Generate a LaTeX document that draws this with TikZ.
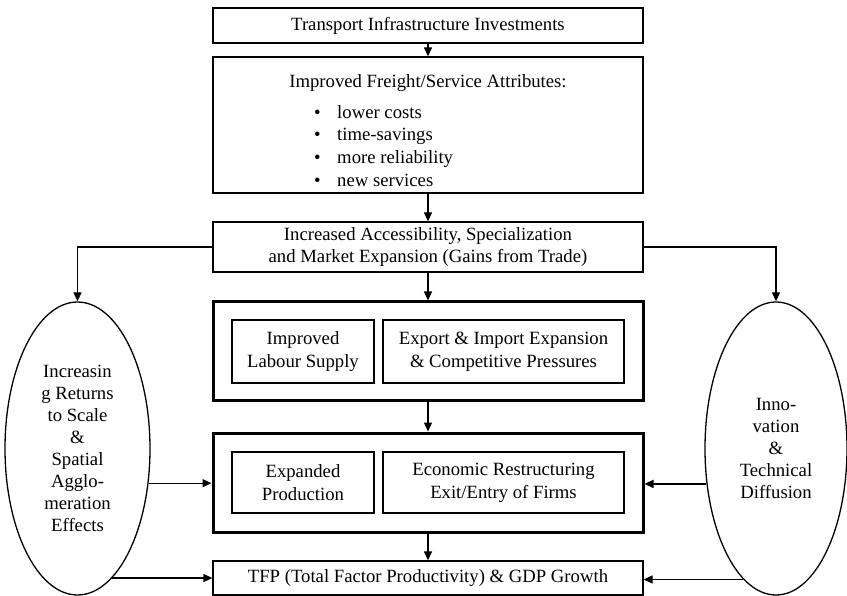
\documentclass[tikz,border=0pt]{standalone}
\usepackage{fontspec}
\setmainfont{Liberation Serif}
\usetikzlibrary{arrows.meta,shapes.geometric}

\begin{document}
\begin{tikzpicture}[x=1pt,y=-1pt,
  every node/.style={font=\fontsize{18.7}{22.8}\selectfont, inner sep=0pt},
  box/.style={draw, line width=1.3pt, align=center, minimum width=430pt},
  groupbox/.style={draw, line width=3pt, minimum width=430pt},
  inbox/.style={draw, line width=1.3pt, align=center},
  oval/.style={draw, ellipse, line width=1.3pt, align=center,
    font=\fontsize{18.7}{22}\selectfont},
  arr/.style={line width=1.3pt, -{Triangle[length=9pt,width=8pt]}}]
\useasboundingbox (0,0) rectangle (847,596);

% main column
\node[box, minimum height=35pt] (inv) at (428,25.5) {Transport Infrastructure Investments};
\node[box, minimum height=136pt] (attr) at (428,125) {};
\node (attrtitle) at (428,83) {Improved Freight/Service Attributes:};
\node[anchor=west, align=left] (attrlist) at (314,146)
  {\textbullet\hspace{16.5pt}lower costs\\
   \textbullet\hspace{16.5pt}time-savings\\
   \textbullet\hspace{16.5pt}more reliability\\
   \textbullet\hspace{16.5pt}new services};
\node[box, minimum height=50pt] (acc) at (428,247)
  {Increased Accessibility, Specialization\\and Market Expansion (Gains from Trade)};

% first grouped block
\node[groupbox, minimum height=98pt] (g1) at (428,351) {};
\node[inbox, minimum width=142pt, minimum height=63pt] (lab) at (303,351.5)
  {Improved\\Labour Supply};
\node[inbox, minimum width=241pt, minimum height=63pt] (exp) at (503.5,351.5)
  {Export \& Import Expansion\\\& Competitive Pressures};

% second grouped block
\node[groupbox, minimum height=99pt] (g2) at (428,482.5) {};
\node[inbox, minimum width=142pt, minimum height=61pt] (prod) at (303,482.5)
  {Expanded\\Production};
\node[inbox, minimum width=241pt, minimum height=61pt] (restr) at (503.5,482.5)
  {Economic Restructuring\\Exit/Entry of Firms};

\node[box, minimum height=34pt] (tfp) at (428,578)
  {TFP (Total Factor Productivity) \& GDP Growth};

% side effects
\node[oval, minimum width=145pt, minimum height=293pt] (lell) at (77.5,448.5)
  {Increasin\\g Returns\\to Scale\\\&\\Spatial\\Agglo-\\meration\\Effects};
\node[oval, minimum width=142pt, minimum height=293pt] (rell) at (776,448.5)
  {Inno-\\vation\\\&\\Technical\\Diffusion};

% connectors
\draw[arr] (inv) -- (attr);
\draw[arr] (attr) -- (acc);
\draw[arr] (acc) -- (g1);
\draw[arr] (g1) -- (g2);
\draw[arr] (g2) -- (tfp);
\draw[arr] (acc.west) -| (lell.north);
\draw[arr] (acc.east) -| (rell.north);
\draw[arr] (lell.-26.1) -- (lell.-26.1 -| g2.west);
\draw[arr] (lell.-75.3) -- (lell.-75.3 -| tfp.west);
\draw[arr] (rell.-153.4) -- (rell.-153.4 -| g2.east);
\draw[arr] (rell.-104.4) -- (rell.-104.4 -| tfp.east);
\end{tikzpicture}
\end{document}
